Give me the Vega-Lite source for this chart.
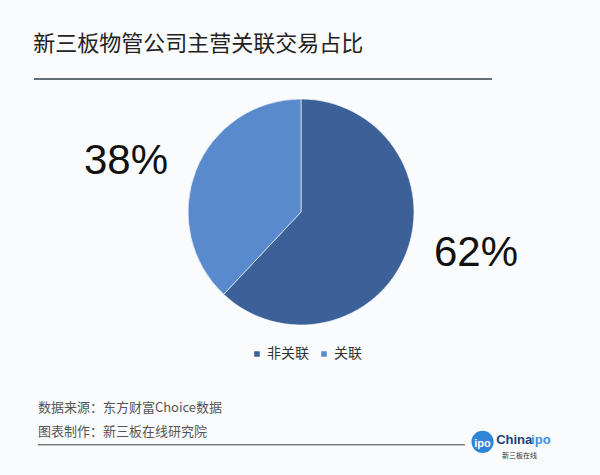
{
  "$schema": "https://vega.github.io/schema/vega-lite/v6.json",
  "background": "#fafbfc",
  "padding": {"left": 33, "top": 33, "right": 33, "bottom": 0},
  "title": {"text": "新三板物管公司主营关联交易占比", "anchor": "start", "fontSize": 22, "font": "Noto Sans CJK SC", "fontWeight": "normal", "color": "#222222", "offset": 22},
  "config": {"view": {"stroke": null}},
  "spacing": 17,
  "vconcat": [
    {
      "width": 458, "height": 1,
      "data": {"values": [{}]},
      "mark": {"type": "rule", "color": "#33404d", "strokeWidth": 1.5},
      "encoding": {"y": {"datum": 0, "type": "quantitative", "scale": {"domain": [0, 1]}, "axis": null}}
    },
    {
      "width": 534, "height": 226,
      "data": {"values": [{"类别": "非关联", "占比": 0.62}, {"类别": "关联", "占比": 0.38}]},
      "layer": [
        {
          "mark": {"type": "arc", "outerRadius": 113, "stroke": "#ffffff", "strokeWidth": 0.6},
          "encoding": {
            "theta": {"field": "占比", "type": "quantitative", "stack": true},
            "order": {"field": "占比", "sort": "descending"},
            "color": {"field": "类别", "type": "nominal", "scale": {"domain": ["非关联", "关联"], "range": ["#3c6198", "#5a8ace"]},
              "legend": {"title": null, "orient": "none", "legendX": 216, "legendY": 269, "direction": "horizontal", "symbolType": "square", "symbolSize": 30, "symbolStrokeWidth": 0, "labelFontSize": 14, "labelFont": "Noto Sans CJK SC", "labelColor": "#333333", "columnPadding": 8, "labelOffset": 3}}
          }
        },
        {
          "mark": {"type": "text", "radius": 181, "dy": -5, "fontSize": 42, "font": "Liberation Sans", "color": "#111111", "align": "center", "baseline": "middle"},
          "encoding": {
            "theta": {"field": "占比", "type": "quantitative", "stack": true, "scale": {"range": [-0.119, 6.164]}},
            "order": {"field": "占比", "sort": "descending"},
            "text": {"field": "占比", "type": "quantitative", "format": ".0%"}
          }
        }
      ],
      "resolve": {"scale": {"theta": "independent"}}
    },
    {
      "width": 534, "height": 137,
      "data": {"values": [{}]},
      "layer": [
        {
          "mark": {"type": "text", "align": "left", "baseline": "middle", "fontSize": 13, "font": "Noto Sans CJK SC", "color": "#555555"},
          "encoding": {
            "x": {"datum": 4, "type": "quantitative", "scale": {"domain": [0, 534]}, "axis": null},
            "y": {"datum": 65, "type": "quantitative", "scale": {"domain": [137, 0]}, "axis": null},
            "text": {"value": "数据来源：东方财富Choice数据"}
          }
        },
        {
          "mark": {"type": "text", "align": "left", "baseline": "middle", "fontSize": 13, "font": "Noto Sans CJK SC", "color": "#555555"},
          "encoding": {
            "x": {"datum": 4, "type": "quantitative"},
            "y": {"datum": 90, "type": "quantitative"},
            "text": {"value": "图表制作：新三板在线研究院"}
          }
        },
        {
          "mark": {"type": "rule", "color": "#444444", "strokeWidth": 1},
          "encoding": {
            "x": {"datum": 4, "type": "quantitative"},
            "x2": {"datum": 444},
            "y": {"datum": 103, "type": "quantitative"}
          }
        },
        {
          "mark": {"type": "circle", "size": 490, "color": "#2f86d6", "opacity": 1},
          "encoding": {
            "x": {"datum": 462, "type": "quantitative"},
            "y": {"datum": 100, "type": "quantitative"}
          }
        },
        {
          "mark": {"type": "text", "align": "center", "baseline": "middle", "fontSize": 11, "fontWeight": "bold", "font": "Liberation Sans", "color": "#ffffff"},
          "encoding": {
            "x": {"datum": 462, "type": "quantitative"},
            "y": {"datum": 102, "type": "quantitative"},
            "text": {"value": "ipo"}
          }
        },
        {
          "mark": {"type": "text", "align": "left", "baseline": "middle", "fontSize": 13, "fontWeight": "bold", "font": "Liberation Sans", "color": "#1d3f7a"},
          "encoding": {
            "x": {"datum": 476, "type": "quantitative"},
            "y": {"datum": 98, "type": "quantitative"},
            "text": {"value": "China"}
          }
        },
        {
          "mark": {"type": "text", "align": "left", "baseline": "middle", "fontSize": 13, "fontWeight": "bold", "font": "Liberation Sans", "color": "#3a8ee0"},
          "encoding": {
            "x": {"datum": 512, "type": "quantitative"},
            "y": {"datum": 98, "type": "quantitative"},
            "text": {"value": "ipo"}
          }
        },
        {
          "mark": {"type": "text", "align": "left", "baseline": "middle", "fontSize": 7, "font": "Noto Sans CJK SC", "color": "#333333", "letterSpacing": 3},
          "encoding": {
            "x": {"datum": 482, "type": "quantitative"},
            "y": {"datum": 114, "type": "quantitative"},
            "text": {"value": "新三板在线"}
          }
        }
      ]
    }
  ]
}
